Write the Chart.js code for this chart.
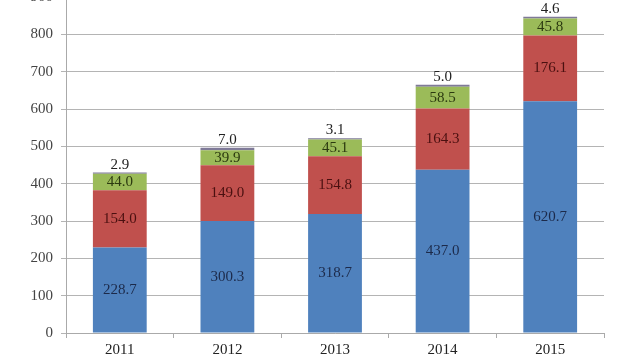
<!DOCTYPE html>
<html><head><meta charset="utf-8">
<script src="https://cdn.jsdelivr.net/npm/chart.js@4/dist/chart.umd.min.js"></script>
<style>
html,body{margin:0;padding:0;background:#fff;overflow:hidden;width:640px;height:360px;}
#wrap{position:absolute;left:0;top:-20px;width:640px;height:380px;}
</style></head>
<body><div id="wrap"><canvas id="c"></canvas></div>
<script>
const categories = ['2011','2012','2013','2014','2015'];
const seriesBlue = [228.7, 300.3, 318.7, 437.0, 620.7];
const seriesRed = [154.0, 149.0, 154.8, 164.3, 176.1];
const seriesGreen = [44.0, 39.9, 45.1, 58.5, 45.8];
const seriesTop = [2.9, 7.0, 3.1, 5.0, 4.6];
const yTicks = [0,100,200,300,400,500,600,700,800,900];

const labelColors = ['#1c2a4a','#4a1010','#2c3a10','#222'];
const labelPlugin = {
  id:'segLabels',
  afterDatasetsDraw(chart){
    const ctx = chart.ctx;
    ctx.save();
    ctx.font = '15px "Liberation Serif", "Times New Roman", serif';
    ctx.textAlign = 'center';
    ctx.textBaseline = 'middle';
    chart.data.datasets.forEach((ds, di) => {
      const meta = chart.getDatasetMeta(di);
      meta.data.forEach((bar, i) => {
        const v = ds.data[i];
        ctx.fillStyle = labelColors[di];
        let y;
        if (di === 3) { y = bar.y - 8; }
        else { y = (bar.y + bar.base) / 2; }
        ctx.fillText(v.toFixed(1), bar.x, y);
      });
    });
    ctx.restore();
  }
};

new Chart(document.getElementById('c'), {
  type:'bar',
  data:{
    labels: categories,
    datasets:[
      {data: seriesBlue, backgroundColor:'#4f81bd'},
      {data: seriesRed, backgroundColor:'#c0504d'},
      {data: seriesGreen, backgroundColor:'#9bbb59'},
      {data: seriesTop, backgroundColor:'#7f7a98'}
    ]
  },
  options:{
    responsive:true, maintainAspectRatio:false, animation:false,
    layout:{padding:{top:16, right:36, left:0, bottom:0}},
    plugins:{legend:{display:false}, tooltip:{enabled:false}},
    datasets:{bar:{categoryPercentage:1.0, barPercentage:0.5}},
    scales:{
      x:{
        stacked:true,
        afterFit(s){ s.height = 27; },
        grid:{display:true, drawOnChartArea:false, tickLength:5, color:'#aaa', offset:true},
        border:{color:'#aaa'},
        ticks:{color:'#222', font:{family:'"Liberation Serif", serif', size:15}, padding:3}
      },
      y:{
        stacked:true, min:0, max:900,
        afterFit(s){ s.width = 66; },
        afterBuildTicks(s){ s.ticks = yTicks.map(v=>({value:v})); },
        grid:{color:'#b4b4b4', tickLength:5},
        border:{color:'#aaa'},
        ticks:{color:'#444', font:{family:'"Liberation Serif", serif', size:15}, padding:8}
      }
    }
  },
  plugins:[labelPlugin]
});
</script></body></html>
